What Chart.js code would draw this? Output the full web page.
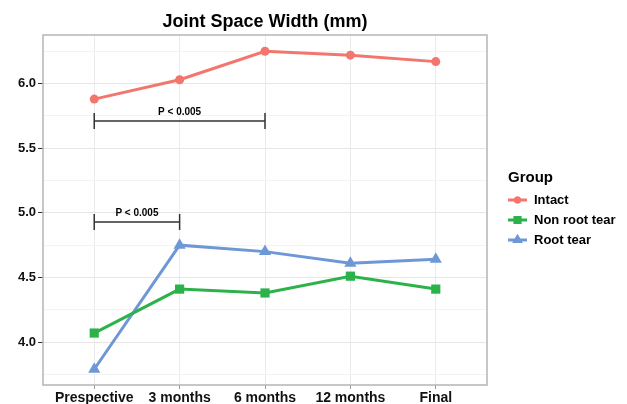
<!DOCTYPE html>
<html>
<head>
<meta charset="utf-8">
<script src="https://cdn.jsdelivr.net/npm/chart.js@4"></script>
<style>
  html, body { margin: 0; padding: 0; background: #fff; }
  #wrap { width: 627px; height: 404px; }
</style>
</head>
<body>
<div id="wrap"><canvas id="jswChart" width="627" height="404"></canvas></div>
<script>
/* Data */
const categories = ["Prespective", "3 months", "6 months", "12 months", "Final"];
const intact = [5.88, 6.03, 6.25, 6.22, 6.17];
const nonRootTear = [4.07, 4.41, 4.38, 4.51, 4.41];
const rootTear = [3.79, 4.75, 4.70, 4.61, 4.64];

/* significance brackets */
const bracketFrom = [0, 0];
const bracketTo = [2, 1];
const bracketY = [5.71, 4.93];
const bracketLabel = ["P < 0.005", "P < 0.005"];

const FONT = "'Liberation Sans', Arial, sans-serif";
const colors = ['#F2766E', '#2DB24B', '#6E97D6'];
const names = ['Intact', 'Non root tear', 'Root tear'];
const styles = ['circle', 'rect', 'triangle'];
const radii = [4.5, 6.5, 7];

const toPoints = arr => arr.map((v, i) => ({x: i, y: v}));
const isMajor = v => Math.abs(v * 2 - Math.round(v * 2)) < 1e-6;

const ggDecor = {
    id: 'ggDecor',
    beforeDatasetsDraw(chart) {
        const {ctx, chartArea: a} = chart;
        ctx.save();
        ctx.strokeStyle = '#b5b5b5';
        ctx.lineWidth = 1.5;
        ctx.strokeRect(a.left, a.top, a.right - a.left, a.bottom - a.top);
        ctx.restore();
    },
    afterDatasetsDraw(chart) {
        const {ctx, chartArea: a, scales: {x, y}} = chart;
        ctx.save();
        // title
        ctx.fillStyle = '#000';
        ctx.font = 'bold 18px ' + FONT;
        ctx.textAlign = 'center';
        ctx.textBaseline = 'middle';
        ctx.fillText('Joint Space Width (mm)', (a.left + a.right) / 2, 22);

        // brackets
        ctx.strokeStyle = '#333';
        ctx.lineWidth = 1.5;
        ctx.font = 'bold 10px ' + FONT;
        ctx.textBaseline = 'alphabetic';
        for (let i = 0; i < bracketY.length; i++) {
            const x1 = x.getPixelForValue(bracketFrom[i]);
            const x2 = x.getPixelForValue(bracketTo[i]);
            const yy = y.getPixelForValue(bracketY[i]);
            ctx.beginPath();
            ctx.moveTo(x1, yy); ctx.lineTo(x2, yy);
            ctx.moveTo(x1, yy - 8); ctx.lineTo(x1, yy + 8);
            ctx.moveTo(x2, yy - 8); ctx.lineTo(x2, yy + 8);
            ctx.stroke();
            ctx.fillStyle = '#000';
            ctx.fillText(bracketLabel[i], (x1 + x2) / 2, yy - 6);
        }

        // legend
        ctx.textAlign = 'left';
        ctx.textBaseline = 'middle';
        ctx.font = 'bold 15px ' + FONT;
        ctx.fillText('Group', 508, 178);
        ctx.font = 'bold 13px ' + FONT;
        names.forEach((n, i) => {
            const ly = 200 + i * 20;
            ctx.strokeStyle = colors[i];
            ctx.lineWidth = 3;
            ctx.beginPath();
            ctx.moveTo(508, ly); ctx.lineTo(527, ly);
            ctx.stroke();
            ctx.fillStyle = colors[i];
            Chart.helpers.drawPoint(ctx, {pointStyle: styles[i], radius: radii[i] - 1, borderWidth: 0}, 517.5, ly);
            ctx.fill();
            ctx.fillStyle = '#000';
            ctx.fillText(n, 534, ly);
        });
        ctx.restore();
    }
};

new Chart('jswChart', {
    type: 'line',
    data: {
        datasets: [intact, nonRootTear, rootTear].map((d, i) => ({
            label: names[i],
            data: toPoints(d),
            borderColor: colors[i],
            backgroundColor: colors[i],
            borderWidth: 3,
            pointStyle: styles[i],
            pointRadius: radii[i],
            pointBorderWidth: 0,
            tension: 0
        }))
    },
    plugins: [ggDecor],
    options: {
        responsive: false,
        animation: false,
        layout: {padding: {top: 35, right: 140, left: 0, bottom: 0}},
        plugins: {
            legend: {display: false},
            title: {display: false},
            tooltip: {enabled: false}
        },
        scales: {
            x: {
                type: 'linear',
                min: -0.6,
                max: 4.6,
                afterFit: s => { s.height = 19; },
                border: {display: false},
                grid: {color: '#ebebeb', tickColor: '#999', tickLength: 4, lineWidth: 1},
                ticks: {
                    stepSize: 1,
                    includeBounds: false,
                    autoSkip: false,
                    maxRotation: 0,
                    padding: 1,
                    color: '#111',
                    font: {family: FONT, size: 14, weight: 'bold'},
                    callback: v => categories[Math.round(v)] ?? ''
                }
            },
            y: {
                min: 3.668,
                max: 6.376,
                afterFit: s => { s.width = 43; },
                border: {display: false},
                grid: {
                    color: c => isMajor(c.tick.value) ? '#e6e6e6' : '#f3f3f3',
                    tickColor: c => isMajor(c.tick.value) ? '#333' : 'rgba(0,0,0,0)',
                    tickLength: 5
                },
                ticks: {
                    stepSize: 0.25,
                    includeBounds: false,
                    autoSkip: false,
                    padding: 2,
                    color: '#111',
                    font: {family: FONT, size: 13, weight: 'bold'},
                    callback: v => isMajor(v) ? v.toFixed(1) : ''
                }
            }
        }
    }
});
</script>
</body>
</html>
